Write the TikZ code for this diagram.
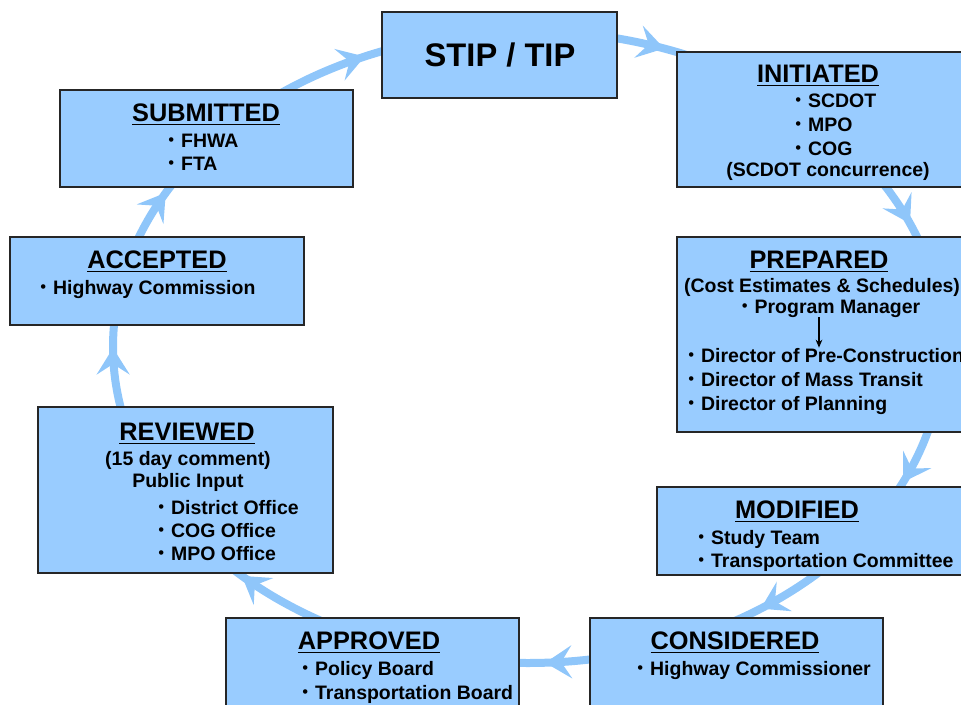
\documentclass[tikz,border=0pt]{standalone}
\usepackage{fontspec}
\setmainfont{Liberation Sans}
\usetikzlibrary{arrows.meta,decorations.markings}

\definecolor{boxblue}{RGB}{153,204,255}
\definecolor{ringblue}{RGB}{143,198,250}

\newcommand{\bodyfont}{\fontsize{14.6}{17}\selectfont\bfseries}
\newcommand{\headfont}{\fontsize{19}{22}\selectfont\bfseries}
\newcommand{\titleul}[1]{\setbox0=\hbox{#1}\rlap{\raisebox{-3.2pt}{\rule{\wd0}{1.3pt}}}\box0}
\newcommand{\itemdot}{\makebox[5.6pt][l]{\raisebox{0.8pt}{\mdseries\fontsize{12.5}{12.5}\selectfont •}}\ }

\tikzset{
  box/.style={draw=black!85, fill=boxblue, line width=1pt, inner sep=0pt},
  head/.style={font=\headfont, inner sep=0pt, anchor=base},
  cline/.style={font=\bodyfont, inner sep=0pt, anchor=base},
  lline/.style={font=\bodyfont, inner sep=0pt, anchor=base west},
  ring/.style={color=ringblue, line width=6pt},
  tipat/.style={postaction={decorate, decoration={markings,
      mark=at position #1 with {\arrow{Stealth[length=20pt,width=25pt,inset=8pt,line width=0pt]}}}}},
}

\begin{document}
\begin{tikzpicture}[x=0.75pt, y=-0.75pt]
\useasboundingbox (0,0) rectangle (961,704);
\clip (0,0) rectangle (961,704);

% points of the ring inside each box
\foreach \n/\a in {stip/270, init/315, prep/360, mod/35, cons/70, appr/110, rev/145, acc/190, sub/225}
  \coordinate (r-\n) at ({528+415*cos(\a)}, {347+316*sin(\a)});

% the ring, one piece per step
\foreach \n/\s/\e/\p in {sub/225/270/0.47, stip/270/315/0.44, init/315/360/0.51,
    prep/0/35/0.71, mod/35/70/0.58, cons/70/110/0.44, appr/110/145/0.69,
    rev/145/190/0.78, acc/190/225/0.53}
  \draw[ring, tipat=\p] (r-\n) arc[start angle=\s, end angle=\e, x radius=415, y radius=316];

% boxes
\node[box, minimum width=176.25pt, minimum height=64.5pt] (stip) at (499.5,55) {};
\node[box, minimum width=223.5pt, minimum height=101.25pt] (init) at (826,119.5) {};
\node[box, minimum width=219.75pt, minimum height=72.75pt] (sub) at (206.5,138.5) {};
\node[box, minimum width=220.5pt, minimum height=66pt] (acc) at (157,281) {};
\node[box, minimum width=223.5pt, minimum height=146.25pt] (prep) at (826,334.5) {};
\node[box, minimum width=221.25pt, minimum height=124.5pt] (rev) at (185.5,490) {};
\node[box, minimum width=238.5pt, minimum height=66pt] (mod) at (816,531) {};
\node[box, minimum width=219.75pt, minimum height=76.5pt] (appr) at (372.5,669) {};
\node[box, minimum width=219.75pt, minimum height=76.5pt] (cons) at (736.5,669) {};

% STIP / TIP
\node[inner sep=0pt, anchor=base, font=\fontsize{24.5}{28}\selectfont\bfseries] (stip-t) at (500,66.5) {STIP / TIP};

% INITIATED
\node[head] (init-t) at (818,82) {\titleul{INITIATED}};
\foreach \txt [count=\i] in {SCDOT, MPO, COG}
  \node[lline] (init-\i) at (795,{107+24*(\i-1)}) {\itemdot\txt};
\node[cline] (init-4) at (828,176) {(SCDOT concurrence)};

% SUBMITTED
\node[head] (sub-t) at (206,121) {\titleul{SUBMITTED}};
\foreach \txt [count=\i] in {FHWA, FTA}
  \node[lline] (sub-\i) at (168,{147+23*(\i-1)}) {\itemdot\txt};

% ACCEPTED
\node[head] (acc-t) at (157,268) {\titleul{ACCEPTED}};
\node[lline] (acc-1) at (40,294) {\itemdot Highway Commission};

% PREPARED
\node[head] (prep-t) at (819,268) {\titleul{PREPARED}};
\node[cline] (prep-c) at (822,292) {(Cost Estimates \& Schedules)};
\node[cline] (prep-pm) at (831,313) {\itemdot Program Manager};
\foreach \txt [count=\i] in {Pre-Construction, Mass Transit, Planning}
  \node[lline] (prep-\i) at (688,{362+24*(\i-1)}) {\itemdot Director of \txt};
\draw[line width=0.8pt, -{Stealth[length=6pt,width=5pt]}] (prep-pm.south -| prep-t) -- (prep-1.north -| prep-t);

% REVIEWED
\node[head] (rev-t) at (187,440) {\titleul{REVIEWED}};
\node[cline] (rev-c) at (188,465) {(15 day comment)};
\node[cline] (rev-p) at (188,487) {Public Input};
\foreach \txt [count=\i] in {District Office, COG Office, MPO Office}
  \node[lline] (rev-\i) at (158,{514+23*(\i-1)}) {\itemdot\txt};

% MODIFIED
\node[head] (mod-t) at (797,518) {\titleul{MODIFIED}};
\foreach \txt [count=\i] in {Study Team, Transportation Committee}
  \node[lline] (mod-\i) at (698,{544+23*(\i-1)}) {\itemdot\txt};

% APPROVED
\node[head] (appr-t) at (369,649) {\titleul{APPROVED}};
\foreach \txt [count=\i] in {Policy Board, Transportation Board}
  \node[lline] (appr-\i) at (302,{675+24*(\i-1)}) {\itemdot\txt};

% CONSIDERED
\node[head] (cons-t) at (735,649) {\titleul{CONSIDERED}};
\node[lline] (cons-1) at (637,675) {\itemdot Highway Commissioner};
\end{tikzpicture}
\end{document}
